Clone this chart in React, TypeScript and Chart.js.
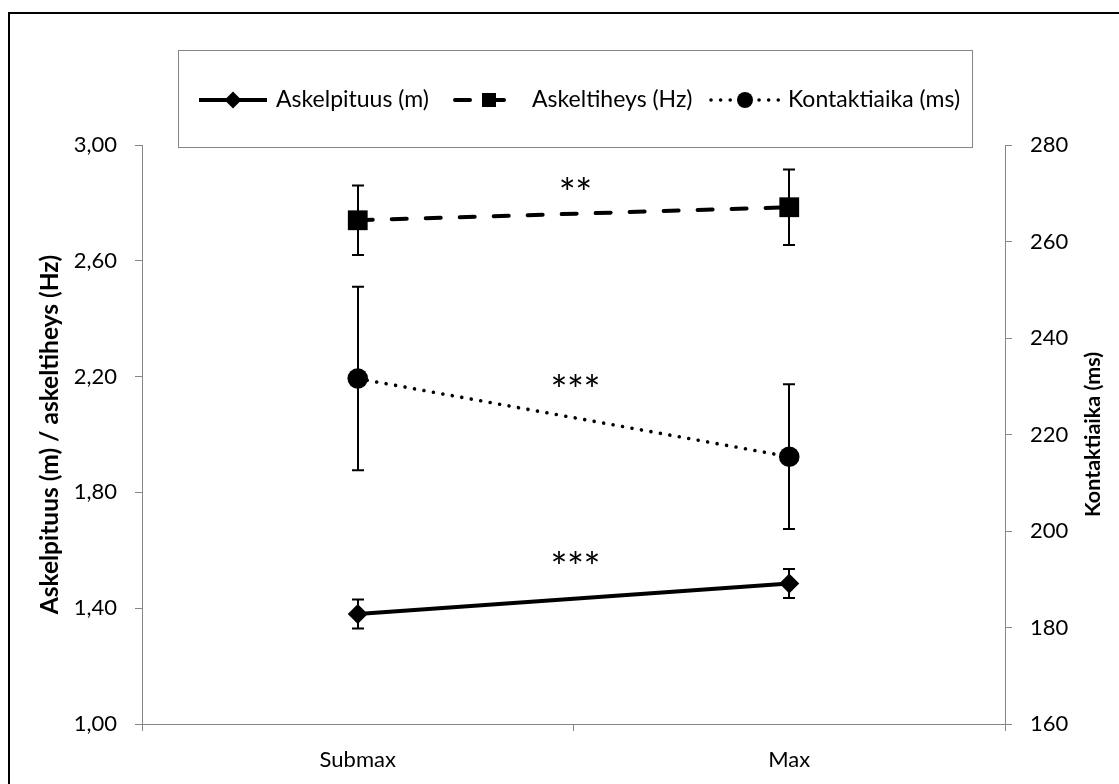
import React, { useEffect, useRef } from 'react';
import { Chart, registerables } from 'chart.js';

Chart.register(...registerables);

// Measurement points and series
const categories = ['Submax', 'Max'];
const seriesNames = ['Askelpituus (m)', 'Askeltiheys (Hz)', 'Kontaktiaika (ms)'];

const askelpituus = [1.38, 1.485];
const askelpituusSd = [0.05, 0.05];

const askeltiheys = [2.74, 2.785];
const askeltiheysSd = [0.12, 0.13];

const kontaktiaika = [231.6, 215.4];
const kontaktiaikaSd = [19, 15];

// Axis ticks
const leftTicks = [1.0, 1.4, 1.8, 2.2, 2.6, 3.0];
const rightTicks = [160, 180, 200, 220, 240, 260, 280];

// Significance markers, one per series
const significance = ['***', '**', '***'];

const leftTitle = 'Askelpituus (m) / askeltiheys (Hz)';
const rightTitle = 'Kontaktiaika (ms)';

const FONT = 'Lato, "Open Sans", "Liberation Sans", sans-serif';
const AXIS_GREY = '#868686';
const INK = '#000000';

const errorsBySeries = [askelpituusSd, askeltiheysSd, kontaktiaikaSd];
const starLift = [42, 31, 38];

function drawMarker(ctx: CanvasRenderingContext2D, style: string, x: number, y: number, r: number) {
  ctx.beginPath();
  if (style === 'rectRot') {
    ctx.moveTo(x, y - r);
    ctx.lineTo(x + r, y);
    ctx.lineTo(x, y + r);
    ctx.lineTo(x - r, y);
    ctx.closePath();
  } else if (style === 'rect') {
    ctx.rect(x - r, y - r, 2 * r, 2 * r);
  } else {
    ctx.arc(x, y, r, 0, Math.PI * 2);
  }
  ctx.fillStyle = INK;
  ctx.fill();
}

// Thin black frame along the top and left edges
const framePlugin = {
  id: 'frame',
  beforeDraw(chart: any) {
    const { ctx, width, height } = chart;
    ctx.save();
    ctx.fillStyle = INK;
    ctx.fillRect(8, 12, 2, height - 12);
    ctx.fillRect(8, 12, width - 8, 2);
    ctx.restore();
  },
};

// Vertical SD whiskers with short caps, drawn under the markers
const errorBarPlugin = {
  id: 'errorBars',
  beforeDatasetsDraw(chart: any) {
    const { ctx } = chart;
    const xs = chart.scales.x;
    ctx.save();
    ctx.strokeStyle = INK;
    ctx.lineWidth = 2;
    chart.data.datasets.forEach((ds: any, si: number) => {
      const ys = chart.scales[ds.yAxisID];
      const errs = errorsBySeries[si];
      ds.data.forEach((v: number, i: number) => {
        const px = Math.round(xs.getPixelForValue(i));
        const top = ys.getPixelForValue(v + errs[i]);
        const bot = ys.getPixelForValue(v - errs[i]);
        ctx.beginPath();
        ctx.moveTo(px, top);
        ctx.lineTo(px, bot);
        ctx.moveTo(px - 6, top);
        ctx.lineTo(px + 6, top);
        ctx.moveTo(px - 6, bot);
        ctx.lineTo(px + 6, bot);
        ctx.stroke();
      });
    });
    ctx.restore();
  },
};

// Significance stars above the middle of each series line
const starsPlugin = {
  id: 'stars',
  afterDatasetsDraw(chart: any) {
    const { ctx } = chart;
    const xs = chart.scales.x;
    const midX = (xs.getPixelForValue(0) + xs.getPixelForValue(1)) / 2;
    ctx.save();
    ctx.fillStyle = INK;
    ctx.font = `40px ${FONT}`;
    ctx.textAlign = 'center';
    ctx.textBaseline = 'alphabetic';
    const m = ctx.measureText('*');
    const shift = (m.actualBoundingBoxAscent - m.actualBoundingBoxDescent) / 2;
    chart.data.datasets.forEach((ds: any, si: number) => {
      const ys = chart.scales[ds.yAxisID];
      const mid = (ds.data[0] + ds.data[1]) / 2;
      const cy = ys.getPixelForValue(mid) - starLift[si];
      const text = significance[si];
      const step = 16.5;
      const start = midX + 2 - ((text.length - 1) * step) / 2;
      for (let k = 0; k < text.length; k++) {
        ctx.fillText('*', start + k * step, cy + shift);
      }
    });
    ctx.restore();
  },
};

// Secondary axis title, reading bottom to top
const rightTitlePlugin = {
  id: 'rightTitle',
  afterDraw(chart: any) {
    const { ctx, chartArea } = chart;
    ctx.save();
    ctx.fillStyle = INK;
    ctx.font = `bold 21.5px ${FONT}`;
    ctx.textAlign = 'center';
    ctx.textBaseline = 'middle';
    ctx.translate(1093, (chartArea.top + chartArea.bottom) / 2);
    ctx.rotate(-Math.PI / 2);
    ctx.fillText(rightTitle, 0, 0);
    ctx.restore();
  },
};

// Boxed legend with line + marker samples
const legendPlugin = {
  id: 'boxLegend',
  afterDraw(chart: any) {
    const { ctx } = chart;
    const box = { left: 178, top: 50, right: 972, bottom: 147 };
    ctx.save();
    ctx.strokeStyle = AXIS_GREY;
    ctx.lineWidth = 1;
    ctx.strokeRect(box.left + 0.5, box.top + 0.5, box.right - box.left, box.bottom - box.top);
    ctx.font = `23px ${FONT}`;
    ctx.textBaseline = 'middle';
    ctx.textAlign = 'left';
    const datasets = chart.data.datasets;
    const sampleW = 68;
    const textOffset = 77;
    const pitch = 256;
    const cy = 100;
    const markerSize: Record<string, number> = { rectRot: 8.5, rect: 7, circle: 8 };
    datasets.forEach((d: any, i: number) => {
      const x = 199 + i * pitch;
      ctx.save();
      ctx.strokeStyle = INK;
      ctx.lineWidth = d.borderWidth;
      ctx.lineCap = d.borderCapStyle || 'butt';
      ctx.setLineDash(d.borderDash || []);
      ctx.beginPath();
      ctx.moveTo(x, cy);
      ctx.lineTo(x + sampleW, cy);
      ctx.stroke();
      ctx.restore();
      drawMarker(ctx, d.pointStyle, x + sampleW / 2, cy, markerSize[d.pointStyle]);
      ctx.fillStyle = INK;
      ctx.fillText(d.label, x + textOffset, cy);
    });
    ctx.restore();
  },
};

const tickFont = { family: FONT, size: 22 };
const axisGrid = {
  display: true,
  drawOnChartArea: false,
  drawTicks: true,
  tickLength: 7,
  color: AXIS_GREY,
  lineWidth: 1,
};
const axisBorder = { display: true, color: AXIS_GREY, width: 1 };

export default function App() {
  const canvasRef = useRef<HTMLCanvasElement | null>(null);

  useEffect(() => {
    const canvas = canvasRef.current;
    if (!canvas) return;
    Chart.defaults.font.family = FONT;
    Chart.defaults.color = INK;

    const chart = new Chart(canvas, {
      type: 'line',
      data: {
        labels: categories,
        datasets: [
          {
            label: seriesNames[0],
            data: askelpituus,
            yAxisID: 'y',
            borderColor: INK,
            backgroundColor: INK,
            borderWidth: 4,
            pointStyle: 'rectRot',
            pointRadius: 10,
            pointBorderWidth: 0,
            pointBackgroundColor: INK,
            tension: 0,
          },
          {
            label: seriesNames[1],
            data: askeltiheys,
            yAxisID: 'y',
            borderColor: INK,
            backgroundColor: INK,
            borderWidth: 4,
            borderDash: [15, 19],
            borderCapStyle: 'round',
            pointStyle: 'rect',
            pointRadius: 14,
            pointBorderWidth: 0,
            pointBackgroundColor: INK,
            tension: 0,
          },
          {
            label: seriesNames[2],
            data: kontaktiaika,
            yAxisID: 'y1',
            borderColor: INK,
            backgroundColor: INK,
            borderWidth: 3.6,
            borderDash: [0.01, 9.6],
            borderCapStyle: 'round',
            pointStyle: 'circle',
            pointRadius: 10.3,
            pointBorderWidth: 0,
            pointBackgroundColor: INK,
            tension: 0,
          },
        ],
      },
      options: {
        responsive: false,
        maintainAspectRatio: false,
        animation: false,
        devicePixelRatio: 1,
        layout: { padding: { top: 145, left: 0, right: 0, bottom: 0 } },
        plugins: {
          legend: { display: false },
          tooltip: { enabled: false },
          title: { display: false },
        },
        scales: {
          x: {
            type: 'category',
            offset: true,
            grid: { ...axisGrid, offset: true },
            border: axisBorder,
            ticks: { color: INK, font: tickFont, padding: 16 },
            afterFit(scale: any) {
              scale.height = 60;
            },
          },
          y: {
            type: 'linear',
            position: 'left',
            min: 1,
            max: 3,
            grid: axisGrid,
            border: axisBorder,
            afterBuildTicks(scale: any) {
              scale.ticks = leftTicks.map((v) => ({ value: v }));
            },
            ticks: {
              color: INK,
              font: tickFont,
              padding: 18,
              callback: (v: any) => Number(v).toFixed(2).replace('.', ','),
            },
            title: {
              display: true,
              text: leftTitle,
              color: INK,
              font: { family: FONT, size: 24.5, weight: 'bold' },
              padding: { top: 35, bottom: 0 },
            },
            afterFit(scale: any) {
              scale.width = 142;
            },
          },
          y1: {
            type: 'linear',
            position: 'right',
            min: 160,
            max: 280,
            grid: axisGrid,
            border: axisBorder,
            afterBuildTicks(scale: any) {
              scale.ticks = rightTicks.map((v) => ({ value: v }));
            },
            ticks: {
              color: INK,
              font: tickFont,
              padding: 18,
              callback: (v: any) => String(v),
            },
            afterFit(scale: any) {
              scale.width = 114;
            },
          },
        },
      },
      plugins: [framePlugin, errorBarPlugin, starsPlugin, rightTitlePlugin, legendPlugin],
    } as any);

    if (document.fonts && document.fonts.load) {
      Promise.all([
        document.fonts.load(`22px Lato`),
        document.fonts.load(`bold 22px Lato`),
      ]).then(() => chart.update()).catch(() => {});
    }

    return () => chart.destroy();
  }, []);

  return (
    <div style={{ position: 'fixed', left: 0, top: 0, width: 1119, height: 784, background: '#fff' }}>
      <canvas ref={canvasRef} width={1119} height={784} style={{ display: 'block' }} />
    </div>
  );
}
